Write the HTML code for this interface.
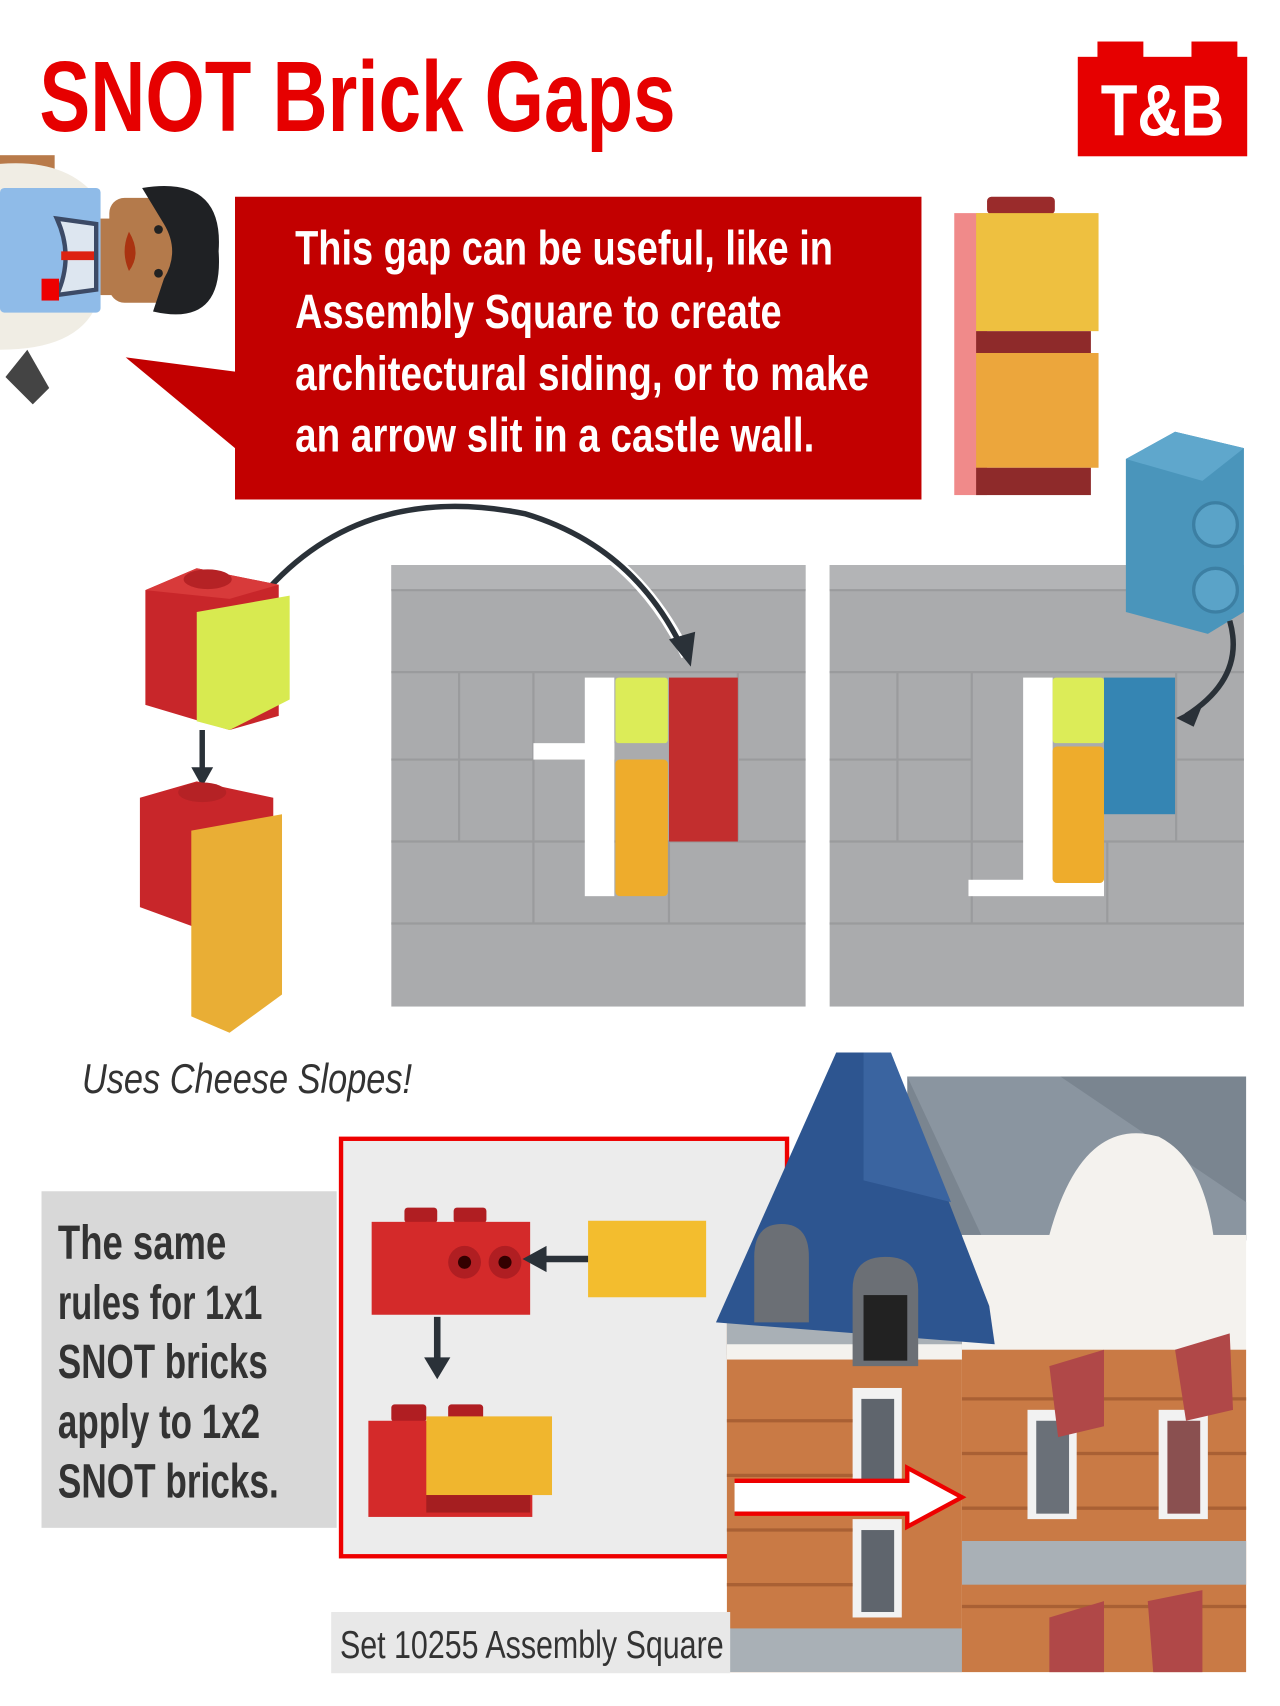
<!DOCTYPE html>
<html><head><meta charset="utf-8"><style>html,body{margin:0;padding:0;background:#fff}svg{display:block}</style></head>
<body>
<svg width="1280" height="1706" viewBox="0 0 1171 1561" preserveAspectRatio="none" xmlns="http://www.w3.org/2000/svg" font-family="Liberation Sans, sans-serif">
<rect width="1171" height="1561" fill="#fff"/>
<!-- Title -->
<text x="36" y="120" font-size="92" font-weight="bold" fill="#e60000" textLength="582" lengthAdjust="spacingAndGlyphs">SNOT Brick Gaps</text>
<!-- Logo -->
<g fill="#e60000">
<rect x="1004" y="38" width="42" height="20"/><rect x="1090" y="38" width="42" height="20"/>
<rect x="986" y="52" width="155" height="91"/>
</g>
<text x="1007" y="124" font-size="66" font-weight="bold" fill="#fff" textLength="113" lengthAdjust="spacingAndGlyphs">T&amp;B</text>
<!-- Minifig -->
<g>
<rect x="0" y="142" width="50" height="14" fill="#b87a4a"/>
<path d="M0 150 Q60 145 88 180 L85 185 L0 185Z" fill="#f0ede4"/>
<path d="M0 280 L88 280 Q70 320 0 320Z" fill="#f0ede4"/>
<rect x="0" y="172" width="92" height="114" rx="4" fill="#8fbbe8"/>
<path d="M52 200 L88 205 L88 265 L52 270 Q68 235 52 200Z" fill="#dde6f0" stroke="#3c4a66" stroke-width="4"/>
<rect x="56" y="230" width="30" height="8" fill="#d21"/>
<rect x="38" y="255" width="16" height="20" fill="#e00"/>
<rect x="92" y="200" width="12" height="70" fill="#b47a4b"/>
<rect x="100" y="181" width="70" height="96" rx="14" fill="#b47a4b"/>
<path d="M130 172 Q205 160 200 230 Q205 300 140 285 L150 255 Q165 230 150 205 Z" fill="#1f2124"/>
<circle cx="145" cy="210" r="4" fill="#222"/><circle cx="145" cy="250" r="4" fill="#222"/>
<path d="M118 212 Q110 230 118 248 Q130 232 118 212Z" fill="#a31"/>
<path d="M5 345 L25 320 L45 355 L30 370Z" fill="#444"/>
</g>
<!-- Callout -->
<path d="M215 180 L843 180 L843 457 L215 457 L215 410 L115 327 L215 340Z" fill="#c20000"/>
<g fill="#fff" font-size="44" font-weight="bold">
<text x="270" y="242" textLength="492" lengthAdjust="spacingAndGlyphs">This gap can be useful, like in</text>
<text x="270" y="300" textLength="445" lengthAdjust="spacingAndGlyphs">Assembly Square to create</text>
<text x="270" y="357" textLength="525" lengthAdjust="spacingAndGlyphs">architectural siding, or to make</text>
<text x="270" y="413" textLength="475" lengthAdjust="spacingAndGlyphs">an arrow slit in a castle wall.</text>
</g>
<!-- stacked bricks top right -->
<rect x="903" y="180" width="62" height="16" rx="4" fill="#9a2b2b"/>
<rect x="873" y="195" width="30" height="258" fill="#f08a8a"/>
<rect x="893" y="195" width="112" height="108" fill="#eec040"/>
<rect x="893" y="303" width="105" height="20" fill="#8e2a2a"/>
<rect x="893" y="323" width="112" height="105" fill="#eca63c"/>
<rect x="893" y="428" width="105" height="25" fill="#8e2a2a"/>
<!-- Walls -->
<g id="wall">
<rect x="358" y="517" width="379" height="404" fill="#aaabad"/>
<rect x="358" y="517" width="379" height="23" fill="#b3b4b6"/>
<g stroke="#9a9b9d" stroke-width="2" fill="none">
<line x1="358" y1="540" x2="737" y2="540"/><line x1="358" y1="615" x2="737" y2="615"/>
<line x1="358" y1="695" x2="488" y2="695"/><line x1="612" y1="695" x2="737" y2="695"/>
<line x1="358" y1="770" x2="737" y2="770"/><line x1="358" y1="845" x2="737" y2="845"/>
<line x1="420" y1="615" x2="420" y2="770"/><line x1="488" y1="615" x2="488" y2="845"/>
<line x1="675" y1="615" x2="675" y2="770"/><line x1="612" y1="770" x2="612" y2="845"/>
</g>
</g>
<rect x="535" y="620" width="27" height="200" fill="#fff"/>
<rect x="488" y="680" width="74" height="15" fill="#fff"/>
<rect x="563" y="620" width="48" height="60" rx="3" fill="#dcec58"/>
<rect x="563" y="695" width="48" height="125" rx="4" fill="#eeac2c"/>
<rect x="612" y="620" width="63" height="150" fill="#c22e2e"/>
<use href="#wall" transform="translate(401 0)"/>
<rect x="936" y="620" width="27" height="190" fill="#fff"/>
<rect x="886" y="805" width="124" height="15" fill="#fff"/>
<rect x="963" y="620" width="47" height="60" rx="3" fill="#dcec58"/>
<rect x="963" y="683" width="47" height="125" rx="4" fill="#eeac2c"/>
<rect x="1010" y="620" width="65" height="125" fill="#3585b3"/>
<!-- Blue brick -->
<path d="M1030 420 L1075 395 L1138 410 L1138 560 L1105 580 L1030 560Z" fill="#4a95bb"/>
<path d="M1030 420 L1075 395 L1138 410 L1100 440Z" fill="#5fa7cc"/>
<circle cx="1112" cy="480" r="20" fill="#5aa3c8" stroke="#3c7fa3" stroke-width="3"/>
<circle cx="1112" cy="540" r="20" fill="#5aa3c8" stroke="#3c7fa3" stroke-width="3"/>
<!-- Curved arrows -->
<path d="M240 545 Q330 440 480 470 Q580 500 628 600" fill="none" stroke="#fff" stroke-width="10"/>
<path d="M240 545 Q330 440 480 470 Q580 500 625 595" fill="none" stroke="#2a3138" stroke-width="5"/>
<path d="M612 585 L632 610 L636 578Z" fill="#2a3138"/>
<path d="M1125 568 Q1140 620 1085 655" fill="none" stroke="#2a3138" stroke-width="5"/>
<path d="M1076 657 L1100 645 L1092 665Z" fill="#2a3138"/>
<!-- left cheese bricks -->
<path d="M133 540 L180 520 L255 535 L255 655 L210 668 L133 645Z" fill="#c8262a"/>
<path d="M133 540 L180 520 L255 535 L210 548Z" fill="#d83a3a"/>
<ellipse cx="190" cy="530" rx="22" ry="9" fill="#b52225"/>
<path d="M180 560 L265 545 L265 640 L210 668 L180 660Z" fill="#d8ea50"/>
<path d="M185 668 L185 710" stroke="#2a3138" stroke-width="5"/>
<path d="M175 702 L195 702 L185 720Z" fill="#2a3138"/>
<path d="M128 730 L180 715 L250 730 L250 850 L210 860 L128 830Z" fill="#c8262a"/>
<ellipse cx="185" cy="725" rx="22" ry="9" fill="#b52225"/>
<path d="M175 760 L258 745 L258 910 L210 945 L175 930Z" fill="#e9ae35"/>
<text x="75" y="1000" font-size="38" font-style="italic" fill="#333" textLength="302" lengthAdjust="spacingAndGlyphs">Uses Cheese Slopes!</text>
<!-- Gray text box -->
<rect x="38" y="1090" width="270" height="308" fill="#d8d8d8"/>
<g font-size="44" font-weight="bold" fill="#333">
<text x="53" y="1152" textLength="154" lengthAdjust="spacingAndGlyphs">The same</text>
<text x="53" y="1207" textLength="187" lengthAdjust="spacingAndGlyphs">rules for 1x1</text>
<text x="53" y="1261" textLength="192" lengthAdjust="spacingAndGlyphs">SNOT bricks</text>
<text x="53" y="1316" textLength="185" lengthAdjust="spacingAndGlyphs">apply to 1x2</text>
<text x="53" y="1370" textLength="202" lengthAdjust="spacingAndGlyphs">SNOT bricks.</text>
</g>
<!-- Red bordered box -->
<rect x="312" y="1042" width="408" height="382" fill="#ececec" stroke="#e00" stroke-width="4"/>
<rect x="370" y="1105" width="30" height="14" rx="3" fill="#b01e22"/><rect x="415" y="1105" width="30" height="14" rx="3" fill="#b01e22"/>
<rect x="340" y="1118" width="145" height="85" fill="#d42a2a"/>
<circle cx="425" cy="1155" r="15" fill="#b01e22"/><circle cx="425" cy="1155" r="6" fill="#300"/>
<circle cx="462" cy="1155" r="15" fill="#b01e22"/><circle cx="462" cy="1155" r="6" fill="#300"/>
<rect x="538" y="1117" width="108" height="70" fill="#f3bd2e"/>
<path d="M538 1152 L495 1152" stroke="#2a3138" stroke-width="6"/>
<path d="M500 1140 L478 1152 L500 1164Z" fill="#2a3138"/>
<path d="M400 1205 L400 1245" stroke="#2a3138" stroke-width="6"/>
<path d="M388 1242 L412 1242 L400 1262Z" fill="#2a3138"/>
<rect x="358" y="1285" width="32" height="16" rx="3" fill="#b01e22"/><rect x="410" y="1285" width="32" height="16" rx="3" fill="#b01e22"/>
<rect x="337" y="1300" width="150" height="88" fill="#d42a2a"/>
<rect x="390" y="1296" width="115" height="72" fill="#f0b62e"/>
<rect x="390" y="1368" width="95" height="16" fill="#a51e20"/>
<!-- Building photo -->
<rect x="830" y="985" width="310" height="150" fill="#7a8590"/>
<path d="M830 985 L970 985 L1140 1100 L1140 1135 L900 1135Z" fill="#8a95a0"/>
<rect x="880" y="1130" width="260" height="110" fill="#f4f2ee"/>
<path d="M960 1130 Q990 1020 1060 1040 Q1100 1060 1110 1130Z" fill="#f4f2ee"/>
<rect x="880" y="1235" width="260" height="295" fill="#c97a45"/>
<g stroke="#a96034" stroke-width="3">
<line x1="880" y1="1280" x2="1140" y2="1280"/><line x1="880" y1="1330" x2="1140" y2="1330"/>
<line x1="880" y1="1380" x2="1140" y2="1380"/><line x1="880" y1="1470" x2="1140" y2="1470"/>
</g>
<rect x="880" y="1410" width="260" height="40" fill="#a9b0b6"/>
<rect x="940" y="1290" width="45" height="100" fill="#f2f2f2"/><rect x="948" y="1300" width="30" height="85" fill="#6a7078"/>
<rect x="1060" y="1290" width="45" height="100" fill="#f2f2f2"/><rect x="1068" y="1300" width="30" height="85" fill="#8a5050"/>
<path d="M960 1250 L1010 1235 L1010 1305 L968 1315Z" fill="#b04848"/>
<path d="M1075 1235 L1125 1220 L1128 1290 L1085 1300Z" fill="#b04848"/>
<path d="M960 1480 L1010 1465 L1010 1530 L960 1530Z" fill="#b04848"/>
<path d="M1050 1465 L1100 1455 L1100 1530 L1055 1530Z" fill="#b04848"/>
<rect x="665" y="1200" width="215" height="330" fill="#c97a45"/>
<rect x="665" y="1200" width="215" height="40" fill="#a9b0b6"/>
<rect x="665" y="1230" width="215" height="14" fill="#f4f2ee"/>
<rect x="780" y="1270" width="45" height="100" fill="#f2f2f2"/><rect x="788" y="1280" width="30" height="85" fill="#5f656d"/>
<rect x="780" y="1390" width="45" height="90" fill="#f2f2f2"/><rect x="788" y="1400" width="30" height="75" fill="#5f656d"/>
<g stroke="#a96034" stroke-width="3">
<line x1="665" y1="1300" x2="780" y2="1300"/><line x1="665" y1="1350" x2="780" y2="1350"/><line x1="665" y1="1400" x2="780" y2="1400"/><line x1="665" y1="1450" x2="780" y2="1450"/>
</g>
<rect x="665" y="1490" width="215" height="40" fill="#a9b0b6"/>
<path d="M765 963 L815 963 L905 1195 L910 1230 L655 1210 Z" fill="#2d5590"/>
<path d="M790 963 L815 963 L870 1100 L790 1080Z" fill="#3a64a0"/>
<path d="M690 1150 Q690 1120 715 1120 Q740 1120 740 1150 L740 1210 L690 1210Z" fill="#6b6f75"/>
<path d="M780 1180 Q780 1150 810 1150 Q840 1150 840 1180 L840 1250 L780 1250Z" fill="#6b6f75"/>
<rect x="790" y="1185" width="40" height="60" fill="#222"/>
<!-- Red outline arrow -->
<path d="M672 1355 L830 1355 L830 1343 L880 1370 L830 1397 L830 1385 L672 1385" fill="#fff" stroke="#e00" stroke-width="4"/>
<!-- Set label -->
<rect x="303" y="1475" width="365" height="56" fill="#e8e8e8"/>
<text x="311" y="1517" font-size="36" fill="#333" textLength="351" lengthAdjust="spacingAndGlyphs">Set 10255 Assembly Square</text>
</svg>
</body></html>
